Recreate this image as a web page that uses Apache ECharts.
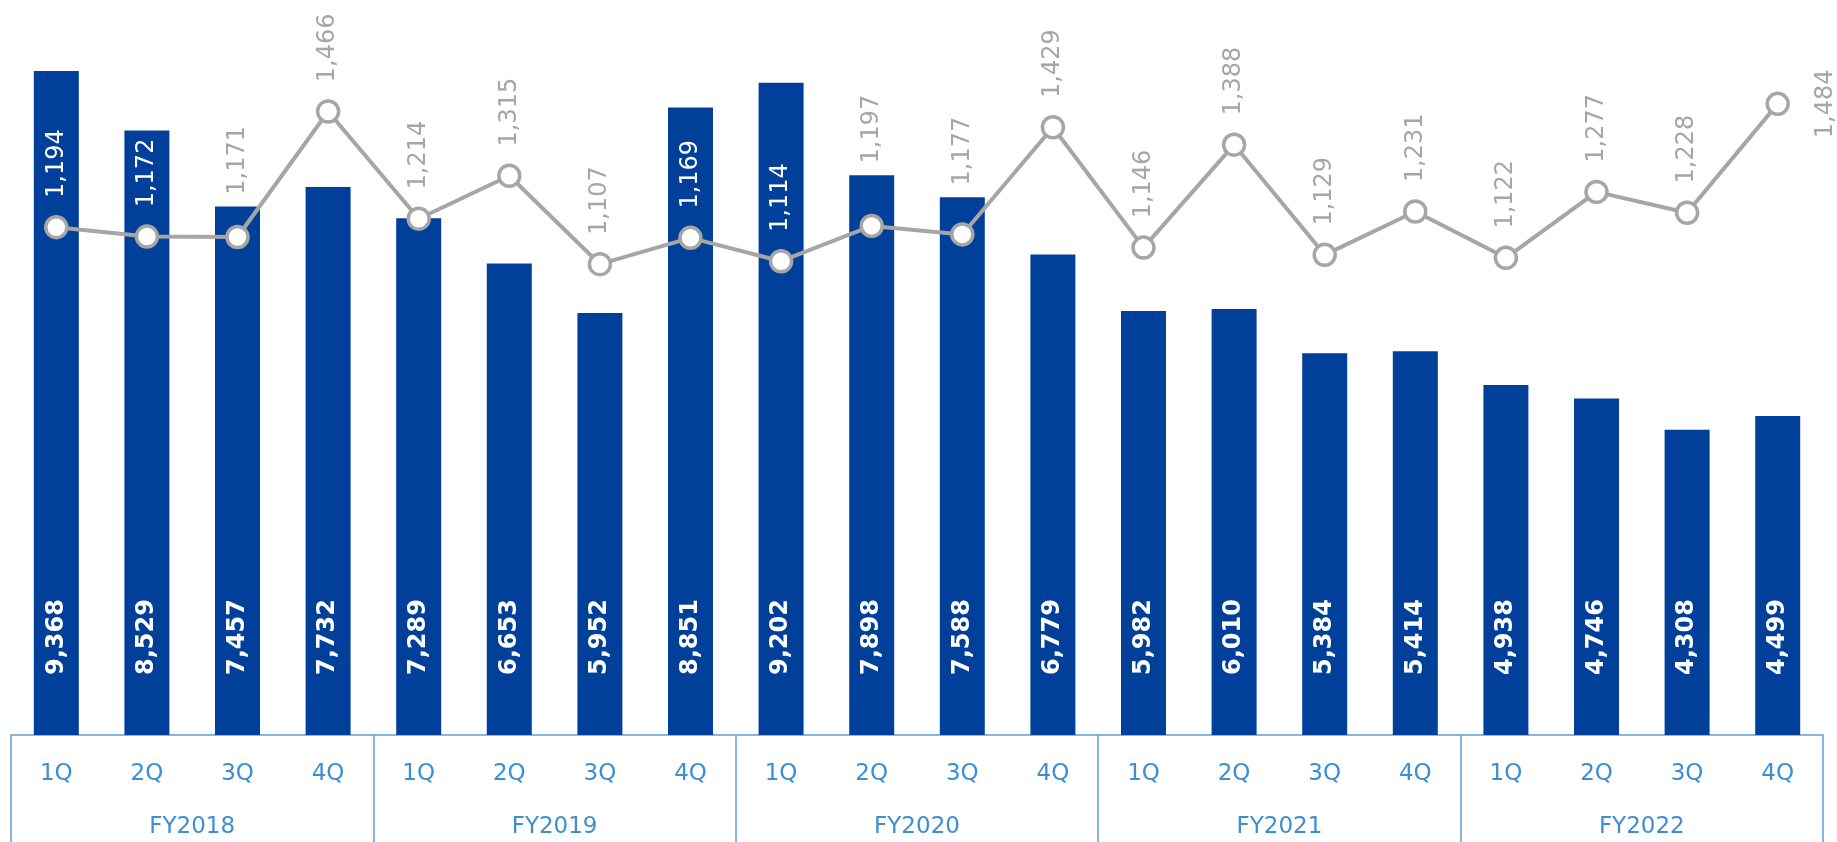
<!DOCTYPE html>
<html>
<head>
<meta charset="utf-8">
<style>
  html, body { margin: 0; padding: 0; background: #ffffff; }
  #chart { width: 1837px; height: 842px; }
</style>
<script src="https://cdn.jsdelivr.net/npm/echarts@6/dist/echarts.min.js"></script>
</head>
<body>
<div id="chart"></div>
<script>
// Quarterly figures, FY2018 – FY2022
const quarters = ['1Q', '2Q', '3Q', '4Q'];
const fiscalYears = ['FY2018', 'FY2019', 'FY2020', 'FY2021', 'FY2022'];
const barValues = [
  9368, 8529, 7457, 7732,
  7289, 6653, 5952, 8851,
  9202, 7898, 7588, 6779,
  5982, 6010, 5384, 5414,
  4938, 4746, 4308, 4499
];
const lineValues = [
  1194, 1172, 1171, 1466,
  1214, 1315, 1107, 1169,
  1114, 1197, 1177, 1429,
  1146, 1388, 1129, 1231,
  1122, 1277, 1228, 1484
];

const BAR_MAX = 10200;
const LINE_MAX = 1700;
const BLUE = '#00409a';
const GREY = '#a6a6a6';
const AXIS_BLUE = '#3d8fd1';
const AXIS_LINE = '#5aa3db';
const FONT = 'DejaVu Sans, Verdana, sans-serif';

const SYMBOL_SIZE = 21;
const LABEL_GAP = 17;        // gap between marker edge and its value label
const LABEL_FONT = 24;
const BAR_CLEARANCE = 10;    // room kept above a bar top when a label is lifted over it

const categories = [];
fiscalYears.forEach(() => quarters.forEach(q => categories.push(q)));

const fmt = v => v.toLocaleString('en-US');

const chart = echarts.init(document.getElementById('chart'), null, { renderer: 'canvas' });

const baseOption = {
  animation: false,
  backgroundColor: '#ffffff',
  grid: { left: 11, right: 14, top: 12, bottom: 107, containLabel: false },
  xAxis: [
    {
      type: 'category',
      data: categories,
      boundaryGap: true,
      position: 'bottom',
      axisLine: { show: true, lineStyle: { color: AXIS_LINE, width: 1.5 } },
      axisTick: { show: false },
      axisLabel: { color: AXIS_BLUE, fontSize: 23, fontFamily: FONT, margin: 28, interval: 0 },
      splitLine: { show: false }
    },
    {
      type: 'category',
      data: fiscalYears,
      boundaryGap: true,
      position: 'bottom',
      axisLine: { show: false },
      axisTick: { show: true, interval: 0, length: 110, lineStyle: { color: AXIS_LINE, width: 1.5 } },
      axisLabel: { color: AXIS_BLUE, fontSize: 23, fontFamily: FONT, margin: 81, interval: 0 },
      splitLine: { show: false }
    }
  ],
  yAxis: [
    { type: 'value', min: 0, max: BAR_MAX, show: false, splitLine: { show: false } },
    { type: 'value', min: 0, max: LINE_MAX, show: false, splitLine: { show: false } }
  ],
  series: [
    {
      type: 'bar',
      xAxisIndex: 0,
      yAxisIndex: 0,
      data: barValues,
      barWidth: 45,
      itemStyle: { color: BLUE },
      label: {
        show: true,
        position: 'insideBottom',
        distance: 60,
        rotate: 90,
        align: 'left',
        verticalAlign: 'middle',
        color: '#ffffff',
        fontSize: 24,
        fontWeight: 'bold',
        fontFamily: FONT,
        formatter: p => fmt(p.value)
      },
      z: 2
    },
    {
      type: 'line',
      xAxisIndex: 0,
      yAxisIndex: 1,
      data: lineValues,
      symbol: 'circle',
      symbolSize: SYMBOL_SIZE,
      lineStyle: { color: GREY, width: 4 },
      itemStyle: { color: '#ffffff', borderColor: GREY, borderWidth: 3.5 },
      label: {
        show: true,
        position: 'top',
        distance: LABEL_GAP,
        rotate: 90,
        align: 'left',
        verticalAlign: 'middle',
        color: GREY,
        fontSize: LABEL_FONT,
        fontFamily: FONT,
        formatter: p => fmt(p.value)
      },
      z: 3
    }
  ]
};

chart.setOption(baseOption);

// Place each line label: white when it sits fully inside its bar, lifted above
// the bar top when the bar edge would cut through it, otherwise just above the marker.
const r = SYMBOL_SIZE / 2;
const lineData = lineValues.map((v, i) => {
  const pointY = chart.convertToPixel({ yAxisIndex: 1 }, v);
  const barTopY = chart.convertToPixel({ yAxisIndex: 0 }, barValues[i]);
  const textLen = echarts.format.getTextRect
    ? echarts.format.getTextRect(fmt(v), LABEL_FONT + 'px ' + FONT).width
    : fmt(v).length * LABEL_FONT * 0.58;
  const labelNear = pointY - r - LABEL_GAP;   // end of label nearest the marker
  const labelFar = labelNear - textLen;       // far end of label
  const item = { value: v, label: {} };

  if (i === lineValues.length - 1) {
    item.label = { position: 'right', align: 'center', distance: 36, color: GREY };
  } else if (barTopY < labelFar - 4) {
    item.label.color = '#ffffff';
  } else if (barTopY < labelNear + 4) {
    item.label.distance = pointY - r - (barTopY - BAR_CLEARANCE);
    item.label.color = GREY;
  }
  return item;
});

chart.setOption({ series: [{}, { data: lineData }] });
</script>
</body>
</html>
